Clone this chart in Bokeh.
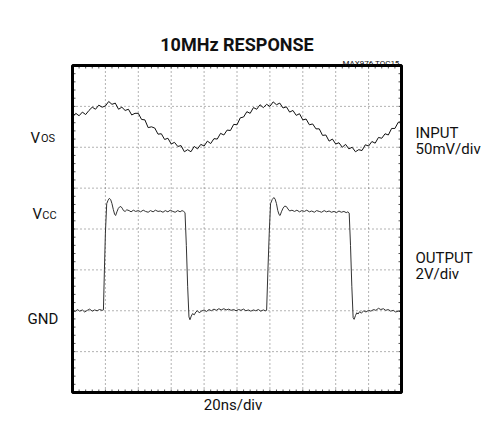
from bokeh.plotting import figure
from bokeh.models import Range1d
from bokeh.core.properties import value
from bokeh.embed import file_html
from bokeh.resources import INLINE

# ---- data (divisions: x 0..10 at 20ns/div, y 0..8) ----
in_x = [round(i * 0.1, 1) for i in range(101)]
in_y = [6.74, 6.83, 6.77, 6.86, 6.80, 6.90, 6.98, 6.93, 7.03, 6.98,
        7.01, 7.12, 7.05, 7.08, 6.93, 6.98, 6.90, 6.93, 6.79, 6.83,
        6.83, 6.68, 6.67, 6.48, 6.50, 6.47, 6.32, 6.33, 6.19, 6.22,
        6.08, 6.12, 6.02, 6.04, 5.89, 5.94, 5.89, 6.02, 5.96, 6.07,
        6.03, 6.15, 6.09, 6.21, 6.20, 6.34, 6.30, 6.42, 6.41, 6.56,
        6.55, 6.72, 6.74, 6.87, 6.83, 6.97, 6.93, 7.04, 6.97, 7.05,
        7.00, 7.11, 7.04, 7.08, 6.96, 6.99, 6.86, 6.90, 6.78, 6.82,
        6.67, 6.69, 6.55, 6.57, 6.45, 6.45, 6.29, 6.30, 6.15, 6.20,
        6.08, 6.11, 6.00, 6.07, 5.96, 6.00, 5.89, 5.94, 5.92, 6.06,
        6.03, 6.14, 6.10, 6.24, 6.22, 6.33, 6.30, 6.46, 6.46, 6.61,
        6.63]

out_x = [0.00, 0.08, 0.15, 0.22, 0.30, 0.37, 0.45, 0.52, 0.60, 0.67,
         0.75, 0.82, 0.90, 0.94, 0.97, 1.00, 1.04, 1.08, 1.12, 1.16,
         1.20, 1.24, 1.28, 1.31, 1.35, 1.39, 1.43, 1.47, 1.51, 1.55,
         1.60, 1.65, 1.72, 1.78, 1.85, 1.92, 2.00, 2.07, 2.15, 2.22,
         2.30, 2.37, 2.45, 2.52, 2.60, 2.67, 2.75, 2.82, 2.90, 2.97,
         3.05, 3.12, 3.20, 3.27, 3.33, 3.38, 3.42, 3.46, 3.50, 3.54,
         3.57, 3.61, 3.65, 3.70, 3.75, 3.80, 3.85, 3.92, 4.00, 4.07,
         4.15, 4.22, 4.30, 4.37, 4.45, 4.52, 4.60, 4.67, 4.75, 4.82,
         4.90, 4.97, 5.05, 5.12, 5.20, 5.27, 5.35, 5.42, 5.50, 5.57,
         5.65, 5.72, 5.80, 5.86, 5.90, 5.94, 5.98, 6.02, 6.07, 6.12,
         6.16, 6.20, 6.24, 6.28, 6.31, 6.35, 6.40, 6.45, 6.50, 6.55,
         6.60, 6.67, 6.75, 6.82, 6.90, 6.97, 7.05, 7.12, 7.20, 7.27,
         7.35, 7.42, 7.50, 7.57, 7.65, 7.72, 7.80, 7.87, 7.95, 8.02,
         8.10, 8.17, 8.25, 8.32, 8.37, 8.41, 8.45, 8.49, 8.53, 8.56,
         8.60, 8.64, 8.68, 8.73, 8.78, 8.85, 8.92, 9.00, 9.07, 9.15,
         9.22, 9.30, 9.37, 9.45, 9.52, 9.60, 9.67, 9.75, 9.82, 9.90,
         10.00]
out_y = [2.01, 1.98, 2.03, 1.99, 2.02, 1.97, 2.01, 2.04, 1.99, 2.02,
         2.00, 2.03, 2.01, 2.02, 3.00, 3.90, 4.62, 4.70, 4.75, 4.72,
         4.62, 4.48, 4.36, 4.33, 4.42, 4.50, 4.54, 4.55, 4.51, 4.45,
         4.43, 4.47, 4.45, 4.42, 4.46, 4.43, 4.45, 4.42, 4.46, 4.43,
         4.41, 4.45, 4.42, 4.46, 4.43, 4.44, 4.41, 4.45, 4.42, 4.46,
         4.43, 4.41, 4.45, 4.42, 4.45, 4.43, 4.40, 3.60, 2.60, 1.85,
         1.78, 1.87, 1.93, 1.90, 1.97, 2.00, 1.95, 1.99, 2.02, 1.98,
         2.03, 2.00, 2.04, 2.01, 2.05, 2.02, 2.05, 2.02, 2.04, 2.01,
         2.03, 2.00, 2.03, 2.01, 2.04, 2.00, 2.02, 1.99, 2.02, 2.00,
         2.03, 1.99, 2.02, 2.00, 2.01, 3.00, 3.90, 4.62, 4.72, 4.77,
         4.73, 4.62, 4.45, 4.35, 4.33, 4.42, 4.51, 4.56, 4.55, 4.49,
         4.44, 4.46, 4.43, 4.46, 4.42, 4.45, 4.43, 4.46, 4.42, 4.44,
         4.41, 4.45, 4.43, 4.41, 4.45, 4.42, 4.44, 4.41, 4.43, 4.40,
         4.44, 4.41, 4.43, 4.40, 4.42, 4.39, 3.60, 2.60, 1.83, 1.79,
         1.88, 1.95, 1.92, 1.98, 1.94, 2.00, 1.97, 2.01, 1.99, 2.03,
         2.01, 2.06, 2.03, 2.05, 2.01, 2.03, 1.99, 2.01, 1.97, 1.99,
         1.97]

n_xdiv = 10
n_ydiv = 8
title_text = "10MHz RESPONSE"
tag_text = "MAX976 TOC15"
xlabel_text = "20ns/div"
left_main = ["V", "V", "GND"]
left_main_y = [6.238, 4.355, 1.81]
left_main_x = [-1.277, -1.216, -1.368]
left_sub = ["OS", "CC"]
left_sub_y = [6.214, 4.33]
left_sub_x = [-0.96, -0.92]
right_text = ["INPUT", "50mV/div", "OUTPUT", "2V/div"]
right_y = [6.36, 5.945, 3.30, 2.887]

FONT = "Roboto"

# screen layout: 32.9 px per x-division, 40.875 px per y-division
PX_X = 32.9
PX_Y = 40.875
p = figure(width=481, height=413, output_backend="svg", toolbar_location=None, tools="",
           x_range=Range1d(-72 / PX_X, 409 / PX_X), y_range=Range1d(-21 / PX_Y, 392 / PX_Y),
           min_border=0, x_axis_location=None, y_axis_location=None)
p.grid.visible = False
p.outline_line_color = None
p.background_fill_color = "white"
p.border_fill_color = "white"

# dotted graticule
gx = list(range(1, n_xdiv))
gy = list(range(1, n_ydiv))
p.segment(x0=gx, y0=[0] * len(gx), x1=gx, y1=[n_ydiv] * len(gx),
          line_color="#666666", line_dash="1 3", line_width=1)
p.segment(x0=[0] * len(gy), y0=gy, x1=[n_xdiv] * len(gy), y1=gy,
          line_color="#666666", line_dash="1 3", line_width=1)

# small inner ticks on the frame, 5 per division
tx = [i / 5 for i in range(1, n_xdiv * 5)]
ty = [i / 5 for i in range(1, n_ydiv * 5)]
tl_x = 3 / PX_X
tl_y = 3 / PX_Y
p.segment(x0=tx, y0=[0] * len(tx), x1=tx, y1=[tl_y] * len(tx), line_color="#555555", line_width=1)
p.segment(x0=tx, y0=[n_ydiv] * len(tx), x1=tx, y1=[n_ydiv - tl_y] * len(tx), line_color="#555555", line_width=1)
p.segment(x0=[0] * len(ty), y0=ty, x1=[tl_x] * len(ty), y1=ty, line_color="#555555", line_width=1)
p.segment(x0=[n_xdiv] * len(ty), y0=ty, x1=[n_xdiv - tl_x] * len(ty), y1=ty, line_color="#555555", line_width=1)

# traces
p.line(in_x, in_y, line_color="#111111", line_width=1)
p.line(out_x, out_y, line_color="#333333", line_width=1)

# frame
p.quad(left=[0], right=[n_xdiv], bottom=[0], top=[n_ydiv], fill_color=None,
       line_color="black", line_width=3)

def txt(xs, ys, ts, size, align="left", bold=False):
    p.text(x=xs, y=ys, text=ts, text_font=value(FONT), text_font_size=size,
           text_align=align, text_baseline="alphabetic",
           text_font_style="bold" if bold else "normal", text_color="#111111")

txt([5.0], [8.514], [title_text], "18px", "center", True)
txt([9.94], [8.037], [tag_text], "8px", "right")
txt([4.88], [-0.30], [xlabel_text], "15px", "center")
txt(left_main_x, left_main_y, left_main, "15px")
txt(left_sub_x, left_sub_y, left_sub, "11px")
txt([10.426] * len(right_text), right_y, right_text, "15px")

open("out.html", "w").write(file_html(p, INLINE))
